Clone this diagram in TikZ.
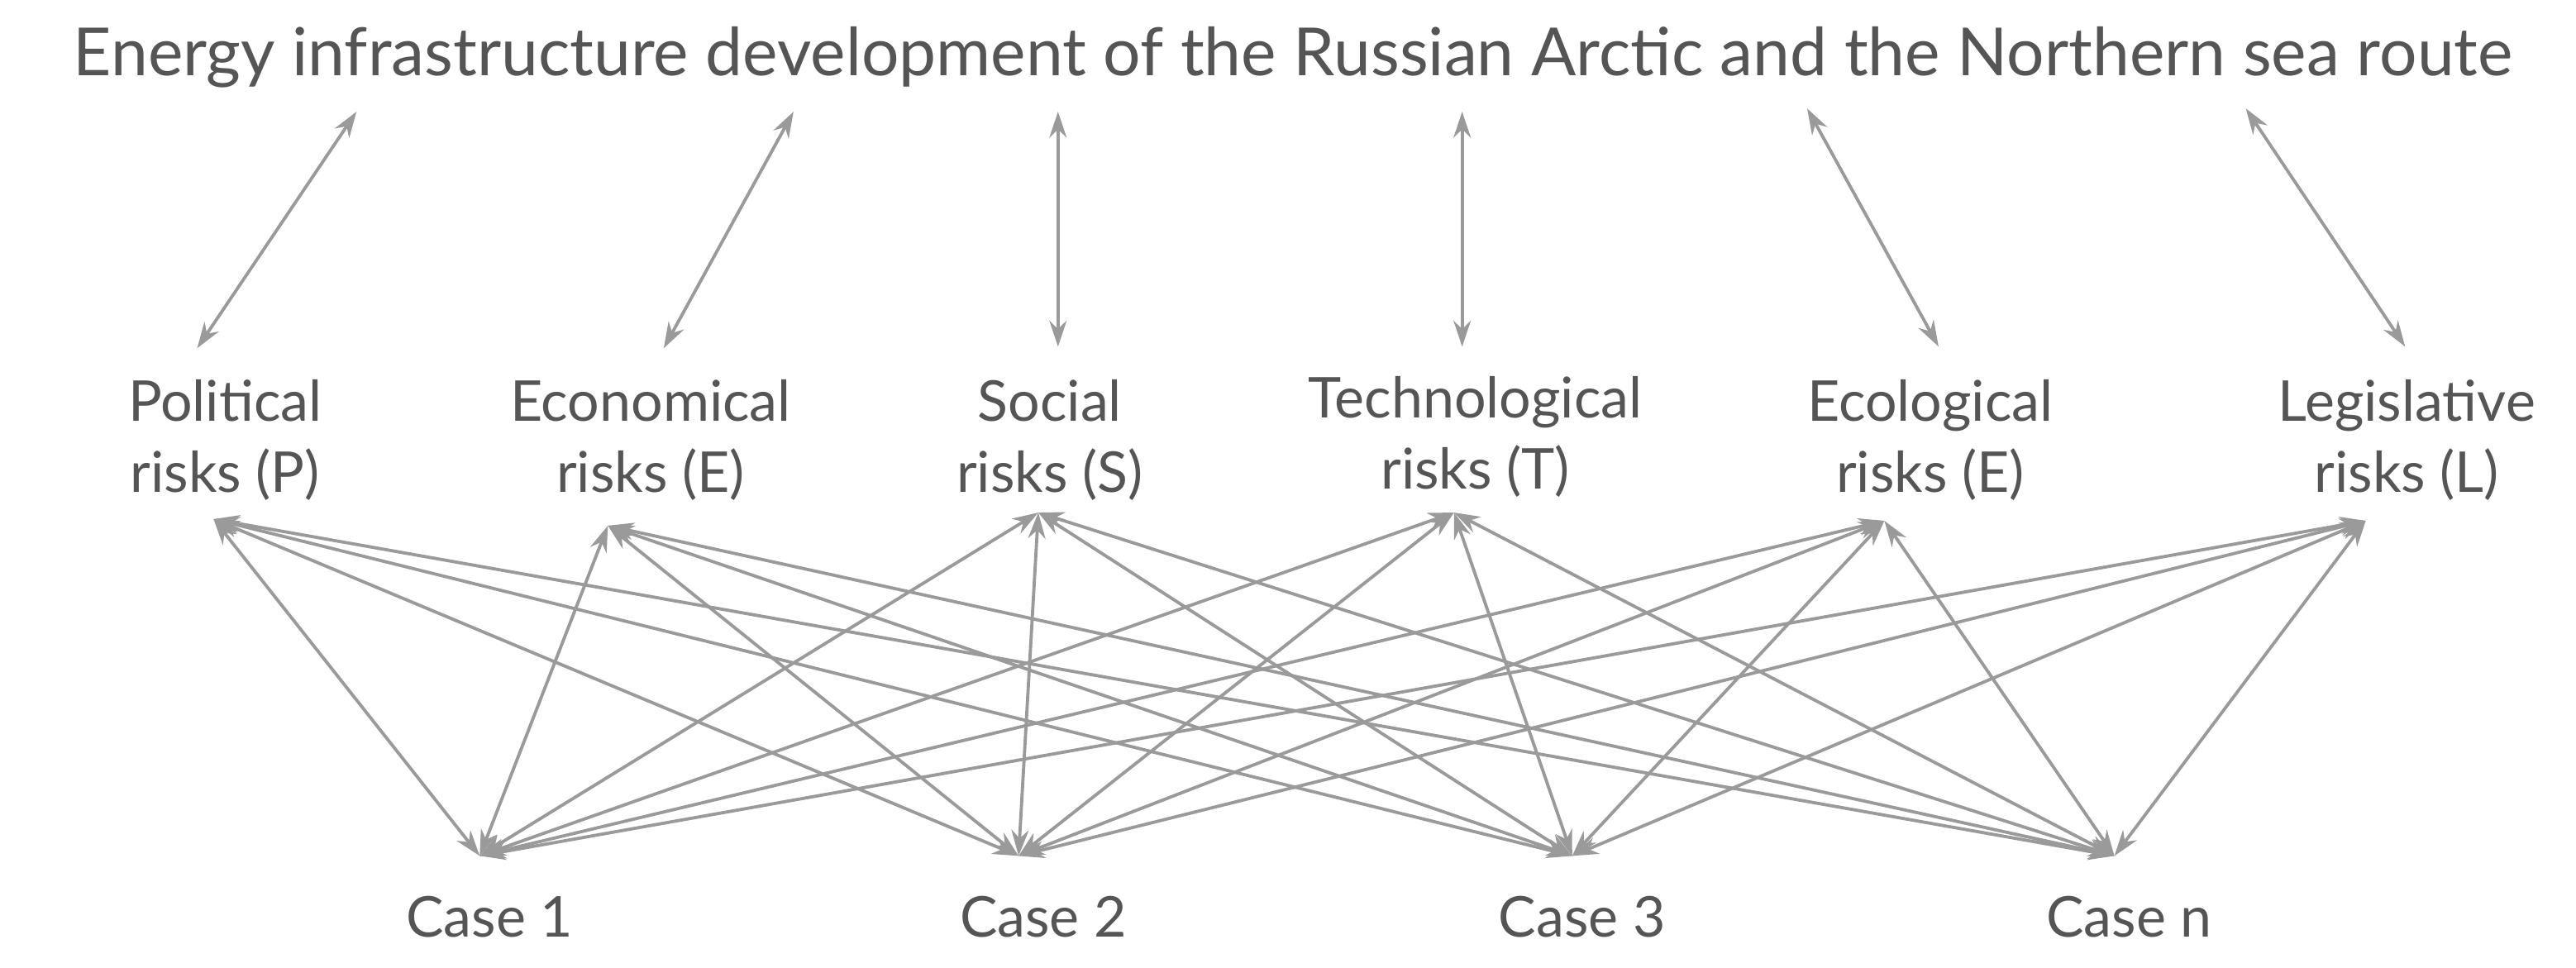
\documentclass[tikz,border=0pt]{standalone}
\usepackage{fontspec}
\setmainfont{Lato}
\usetikzlibrary{arrows.meta}
\definecolor{txt}{HTML}{555555}
\definecolor{ln}{HTML}{9A9A9A}
\begin{document}
\begin{tikzpicture}[x=0.02cm,y=-0.02cm,
  conn/.style={draw=ln,line width=1.1pt,{Stealth[length=9pt,width=6pt]}-{Stealth[length=9pt,width=6pt]}},
  lbl/.style={text=txt,font=\fontsize{19.5}{24.5}\selectfont,align=center,inner sep=0pt},
  ttl/.style={text=txt,font=\fontsize{23}{28}\selectfont,inner sep=0pt}]
\useasboundingbox (0,0) rectangle (1568,589);
\node[ttl] (title) at (787,35) {Energy infrastructure development of the Russian Arctic and the Northern sea route};
\node[lbl] (lP) at (137,268) {Political\\risks (P)};
\node[lbl] (lE) at (396,268) {Economical\\risks (E)};
\node[lbl] (lS) at (639,268) {Social\\risks (S)};
\node[lbl] (lT) at (898,266) {Technological\\risks (T)};
\node[lbl] (lEc) at (1175,268) {Ecological\\risks (E)};
\node[lbl] (lL) at (1465,268) {Legislative\\risks (L)};
\node[lbl] (c1) at (298,558) {Case 1};
\node[lbl] (c2) at (635,558) {Case 2};
\node[lbl] (c3) at (963,558) {Case 3};
\node[lbl] (cn) at (1296,558) {Case n};
% top arrows
\coordinate (t1) at (217,68); \coordinate (b1) at (120,212);
\coordinate (t2) at (483,68); \coordinate (b2) at (404,212);
\coordinate (t3) at (644,68); \coordinate (b3) at (644,211);
\coordinate (t4) at (890,68); \coordinate (b4) at (890,211);
\coordinate (t5) at (1100,66); \coordinate (b5) at (1180,211);
\coordinate (t6) at (1367,66); \coordinate (b6) at (1464,211);
\foreach \i in {1,...,6} \draw[conn] (t\i) -- (b\i);
% risk anchors
\coordinate (r1) at (130,316);
\coordinate (r2) at (370,320);
\coordinate (r3) at (632,312);
\coordinate (r4) at (885,312);
\coordinate (r5) at (1147,317);
\coordinate (r6) at (1440,317);
\coordinate (k1) at (292,521);
\coordinate (k2) at (620,521);
\coordinate (k3) at (957,521);
\coordinate (k4) at (1287,521);
\foreach \i in {1,...,6} \foreach \j in {1,...,4} \draw[conn] (r\i) -- (k\j);
\end{tikzpicture}
\end{document}
